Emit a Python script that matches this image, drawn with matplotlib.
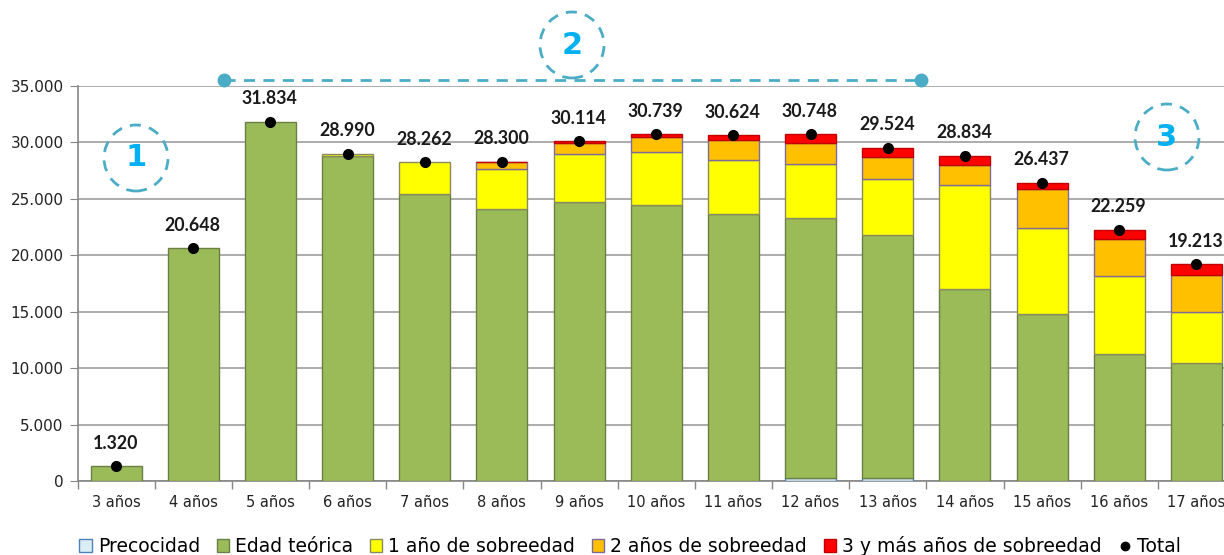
import matplotlib
matplotlib.use("Agg")
import matplotlib.pyplot as plt
import numpy as np
from matplotlib.patches import Patch, Ellipse
from matplotlib.lines import Line2D
from matplotlib.ticker import FuncFormatter

categories = ["3 años", "4 años", "5 años", "6 años", "7 años", "8 años", "9 años",
              "10 años", "11 años", "12 años", "13 años", "14 años", "15 años",
              "16 años", "17 años"]
precocidad = [0, 0, 0, 0, 0, 0, 0, 0, 0, 250, 250, 0, 0, 0, 0]
edad_teorica = [1320, 20648, 31834, 28800, 25400, 24100, 24750, 24480, 23690,
                23080, 21520, 17010, 14820, 11220, 10430]
sobre1 = [0, 0, 0, 190, 2862, 3550, 4200, 4640, 4750, 4760, 4990, 9250, 7570, 6940, 4520]
sobre2 = [0, 0, 0, 0, 0, 620, 1000, 1360, 1800, 1890, 1950, 1770, 3460, 3280, 3300]
sobre3 = [0, 0, 0, 0, 0, 30, 164, 259, 384, 768, 814, 804, 587, 819, 963]
total = [1320, 20648, 31834, 28990, 28262, 28300, 30114, 30739, 30624, 30748,
         29524, 28834, 26437, 22259, 19213]

series = [
    ("Precocidad", precocidad, "#DAEEF3", "#4F81BD"),
    ("Edad teórica", edad_teorica, "#9BBB59", "#6B7F45"),
    ("1 año de sobreedad", sobre1, "#FFFF00", "#8A8A60"),
    ("2 años de sobreedad", sobre2, "#FFC000", "#7F6A9A"),
    ("3 y más años de sobreedad", sobre3, "#FF0000", "#C00000"),
]

LABEL_FONT = ["Lato", "DejaVu Sans"]

W, H = 1224, 555
fig = plt.figure(figsize=(W / 100, H / 100), dpi=100)
ax = fig.add_axes([77.5 / W, (H - 481) / H, (1235 - 77.5) / W, 395 / H])

x = np.arange(len(categories))
bottom = np.zeros(len(categories))
for name, vals, col, ec in series:
    v = np.array(vals, dtype=float)
    m = v > 0
    ax.bar(x[m], v[m], 0.66, bottom=bottom[m], color=col, edgecolor=ec, linewidth=1.0, zorder=3)
    bottom += v

ax.plot(x, total, 'o', color='black', markersize=7, zorder=5)
for xi, t in zip(x, total):
    ax.annotate(f"{t:,}".replace(",", "."), (xi, t), xytext=(-0.5, 16.5), textcoords="offset points",
                ha="center", va="center", fontsize=12.8, fontweight="bold", color="#1a1a1a",
                family=LABEL_FONT, zorder=6)

ax.set_xlim(-0.5, len(categories) - 0.5)
ax.set_ylim(0, 35000)
ax.set_yticks(np.arange(0, 35001, 5000))
ax.yaxis.set_major_formatter(FuncFormatter(lambda v, p: f"{int(v):,}".replace(",", ".")))
ax.set_xticks(x)
ax.set_xticklabels(categories)
ax.set_xticks(np.arange(-0.5, len(categories), 1), minor=True)
ax.tick_params(axis="x", which="major", length=0, labelsize=10.5, colors="#222222", pad=10)
ax.tick_params(axis="x", which="minor", length=6, color="#868686", width=1)
ax.tick_params(axis="y", length=6, color="#868686", labelsize=11, labelcolor="#222222", pad=4)
ax.grid(axis="y", color="#A6A6A6", linewidth=1.3, zorder=0)
ax.set_axisbelow(True)
for s in ["top", "right"]:
    ax.spines[s].set_visible(False)
for s in ["left", "bottom"]:
    ax.spines[s].set_color("#868686")
    ax.spines[s].set_linewidth(1.2)

# Annotations
circ_col = "#4BACC6"
num_col = "#00B0F0"
for cx, cy, lab in [(136, 158, "1"), (572, 45, "2"), (1167, 137, "3")]:
    e = Ellipse((cx / W, 1 - cy / H), 64 / W, 66 / H, transform=fig.transFigure,
                fill=False, edgecolor=circ_col, linestyle=(0, (4, 3)), linewidth=2)
    fig.patches.append(e)
    fig.text(cx / W, 1 - cy / H, lab, ha="center", va="center", fontsize=22,
             fontweight="bold", color=num_col)

fig.add_artist(Line2D([224 / W, 921 / W], [1 - 80 / H, 1 - 80 / H], transform=fig.transFigure,
                      color=circ_col, linestyle=(0, (4, 3)), linewidth=2))
fig.add_artist(Line2D([224 / W, 921 / W], [1 - 80 / H, 1 - 80 / H], transform=fig.transFigure,
                      color=circ_col, linestyle="none", marker="o", markersize=9))

handles = [Patch(facecolor=c, edgecolor=ec, label=n) for n, _, c, ec in series]
handles.append(Line2D([], [], marker="o", color="black", linestyle="none", markersize=6, label="Total"))
fig.legend(handles=handles, loc="center", bbox_to_anchor=(630 / W, 1 - 546 / H), ncol=6,
           frameon=False, fontsize=13.5, handlelength=0.65, handleheight=0.65,
           handletextpad=0.32, columnspacing=0.9)

fig.savefig("out.png", dpi=100)
